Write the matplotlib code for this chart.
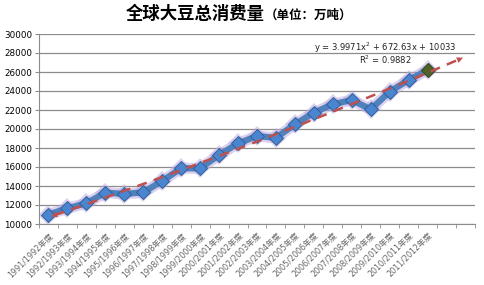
import numpy as np
import matplotlib
matplotlib.use("Agg")
from matplotlib import pyplot as plt

plt.rcParams['font.family'] = ['DejaVu Sans', 'Noto Sans CJK SC']

# data
years = ["1991/1992", "1992/1993", "1993/1994", "1994/1995", "1995/1996",
         "1996/1997", "1997/1998", "1998/1999", "1999/2000", "2000/2001",
         "2001/2002", "2002/2003", "2003/2004", "2004/2005", "2005/2006",
         "2006/2007", "2007/2008", "2008/2009", "2009/2010", "2010/2011",
         "2011/2012"]
labels = [y + "年度" for y in years]
consumption = [11000, 11650, 12180, 13300, 13160, 13330, 14530, 15860, 15860,
               17260, 18490, 19250, 19080, 20490, 21720, 22600, 23050, 22070,
               23930, 25160, 26210]
# trendline shown on chart: y = 3.9971x^2 + 672.63x + 10033
trend_coef = [3.9971, 672.63, 10033]
forecast = 2

n = len(consumption)
x = np.arange(1, n + 1)

fig = plt.figure(figsize=(4.84, 2.85), dpi=100)
ax = fig.add_axes([39/484, 1 - 224/285, (475 - 39)/484, (224 - 34)/285])

ax.set_ylim(10000, 30000)
ax.set_xlim(0.5, n + forecast + 0.5)
ax.set_yticks(np.arange(10000, 30001, 2000))
ax.yaxis.grid(True, color='#8c8c8c', lw=0.9)
ax.set_axisbelow(True)
for s in ['top', 'right']:
    ax.spines[s].set_visible(False)
ax.spines['left'].set_color('#8c8c8c')
ax.spines['bottom'].set_color('#8c8c8c')
ax.tick_params(axis='y', labelsize=6.3, length=3, color='#8c8c8c', pad=2)

# category ticks at boundaries, labels at centers
ax.set_xticks(np.arange(0.5, n + forecast + 1, 1), minor=True)
ax.set_xticks(x)
ax.set_xticklabels(labels, rotation=45, ha='right', rotation_mode='anchor',
                   fontsize=5.8, color='#666666')
ax.tick_params(axis='x', which='major', length=0, pad=5)
ax.tick_params(axis='x', which='minor', length=3, color='#8c8c8c')

# glow
ax.plot(x, consumption, color='#b9a7e0', lw=8, alpha=0.5, solid_capstyle='round',
        marker='D', markersize=10, markeredgewidth=0, zorder=2)
# line + markers
ax.plot(x, consumption, color='#4f81bd', lw=4.5, zorder=3,
        marker='D', markersize=7, markerfacecolor='#4a86d0',
        markeredgecolor='#2f5f98', markeredgewidth=0.7)
ax.plot(x[-1], consumption[-1], marker='D', markersize=7, color='#4f6228',
        markeredgecolor='#3b4a1e', markeredgewidth=0.7, zorder=4)

# trendline with arrows at both ends
xt = np.linspace(1, n + forecast, 200)
yt = np.polyval(trend_coef, xt)
ax.plot(xt[3:-3], yt[3:-3], color='#c0504d', lw=1.8, ls=(0, (4, 3)), zorder=5)
ax.annotate('', xy=(xt[-1], yt[-1]), xytext=(xt[-6], yt[-6]),
            arrowprops=dict(arrowstyle='-|>', color='#c0504d', lw=0,
                            mutation_scale=11), zorder=5)
ax.annotate('', xy=(xt[0], yt[0]), xytext=(xt[5], yt[5]),
            arrowprops=dict(arrowstyle='-|>', color='#c0504d', lw=0,
                            mutation_scale=11), zorder=5)

ax.text(385/484, 1 - 48/285, "y = 3.9971x$^2$ + 672.63x + 10033", transform=fig.transFigure,
        ha='center', va='center', fontsize=6, color='#222222')
ax.text(385/484, 1 - 60/285, "R$^2$ = 0.9882", transform=fig.transFigure,
        ha='center', va='center', fontsize=6, color='#222222')

fig.text(265/484, 1 - 14/285, "全球大豆总消费量", ha='right', va='center',
         fontsize=12.5, fontweight='bold', family=['Noto Sans CJK SC'])
fig.text(265/484, 1 - 15/285, "（单位：万吨）", ha='left', va='center',
         fontsize=9, fontweight='bold', family=['Noto Sans CJK SC'])

fig.savefig("out.png", dpi=100)
